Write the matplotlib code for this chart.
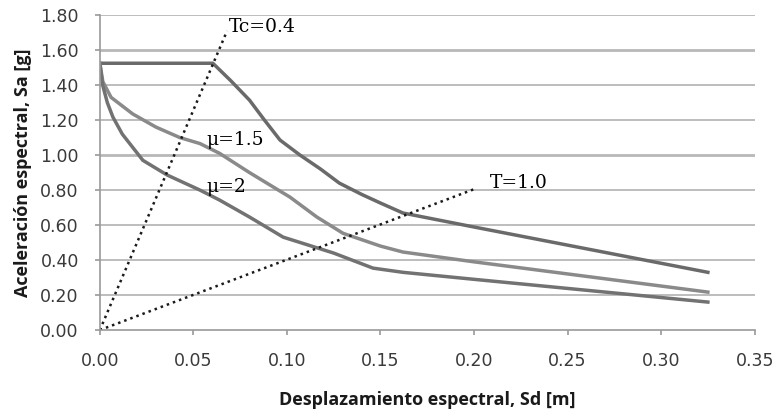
import matplotlib.pyplot as plt

# Spectral curves (Sd in m, Sa in g)
sd_mu1 = [0.0, 0.0604, 0.070, 0.080, 0.088, 0.0963, 0.107, 0.118, 0.128,
          0.140, 0.150, 0.162, 0.200, 0.325]
sa_mu1 = [1.525, 1.525, 1.425, 1.314, 1.200, 1.086, 1.000, 0.920, 0.840,
          0.775, 0.726, 0.669, 0.589, 0.330]

sd_mu15 = [0.0, 0.0016, 0.006, 0.0176, 0.030, 0.0428, 0.0535, 0.064, 0.080,
           0.1016, 0.116, 0.130, 0.150, 0.162, 0.200, 0.325]
sa_mu15 = [1.525, 1.420, 1.330, 1.235, 1.160, 1.100, 1.066, 1.010, 0.900,
           0.760, 0.646, 0.553, 0.480, 0.446, 0.390, 0.217]

sd_mu2 = [0.0, 0.0015, 0.004, 0.007, 0.012, 0.023, 0.036, 0.0535, 0.064,
          0.080, 0.098, 0.125, 0.146, 0.162, 0.200, 0.325]
sa_mu2 = [1.525, 1.400, 1.300, 1.217, 1.120, 0.970, 0.886, 0.800, 0.743,
          0.646, 0.531, 0.440, 0.354, 0.330, 0.290, 0.160]

# Period lines
sd_tc = [0.0, 0.068]
sa_tc = [0.0, 1.71]
sd_t1 = [0.0, 0.200]
sa_t1 = [0.0, 0.805]

x_ticks = [0.00, 0.05, 0.10, 0.15, 0.20, 0.25, 0.30, 0.35]
y_ticks = [0.00, 0.20, 0.40, 0.60, 0.80, 1.00, 1.20, 1.40, 1.60, 1.80]

fig = plt.figure(figsize=(7.74, 4.09), dpi=100)
ax = fig.add_axes([0.129, 0.193, 0.846, 0.770])

for y in y_ticks[1:]:
    lw = 2.0 if y in (1.00, 1.60) else 1.3
    ax.axhline(y, color='#b8b8b8', lw=lw, zorder=0)

ax.plot(sd_mu1, sa_mu1, color='#6a6a6a', lw=2.5, solid_joinstyle='round')
ax.plot(sd_mu15, sa_mu15, color='#8a8a8a', lw=2.5, solid_joinstyle='round')
ax.plot(sd_mu2, sa_mu2, color='#727272', lw=2.5, solid_joinstyle='round')

ax.plot(sd_tc, sa_tc, color='#1a1a1a', lw=1.8, ls=(0, (1, 1.6)))
ax.plot(sd_t1, sa_t1, color='#1a1a1a', lw=1.8, ls=(0, (1, 1.6)))

serif = 'DejaVu Serif'
ax.text(0.0690, 1.734, 'Tc=0.4', family=serif, fontsize=13.5, va='center')
ax.text(0.2086, 0.84, 'T=1.0', family=serif, fontsize=13.5, va='center')
ax.text(0.0572, 1.086, 'μ=1.5', family=serif, fontsize=13.5, va='center')
ax.text(0.0572, 0.817, 'μ=2', family=serif, fontsize=13.5, va='center')

ax.set_xlim(0, 0.35)
ax.set_ylim(0, 1.80)
ax.set_xticks(x_ticks)
ax.set_yticks(y_ticks)
ax.set_xticklabels(['%.2f' % v for v in x_ticks])
ax.set_yticklabels(['%.2f' % v for v in y_ticks])

for s in ['top', 'right']:
    ax.spines[s].set_visible(False)
for s in ['left', 'bottom']:
    ax.spines[s].set_color('#9a9a9a')
    ax.spines[s].set_linewidth(1.2)

ax.tick_params(axis='both', colors='#9a9a9a', length=3.6, width=1.2,
               labelsize=12.5, labelcolor='#3a3a3a')
ax.tick_params(axis='x', pad=12)
ax.tick_params(axis='y', pad=11.5)
for lab in ax.get_xticklabels() + ax.get_yticklabels():
    lab.set_family('DejaVu Sans')

ax.set_xlabel('Desplazamiento espectral, Sd [m]', family='Open Sans',
              fontsize=13, fontweight='bold', labelpad=15, color='#1a1a1a')
ax.set_ylabel('Aceleración espectral, Sa [g]', family='Open Sans',
              fontsize=13, fontweight='bold', labelpad=6, color='#1a1a1a')

plt.savefig('out.png', dpi=100)
plt.close()
